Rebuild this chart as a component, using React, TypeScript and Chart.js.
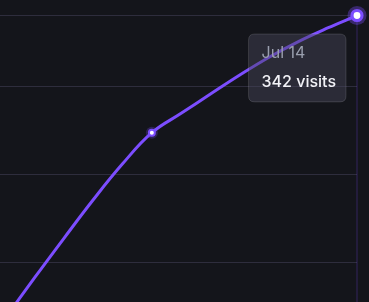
import React, { useEffect, useRef } from 'react';
import { Chart, registerables, Tooltip } from 'chart.js';

Chart.register(...registerables);

// ---- data ----
const DATES = ['Jul 1', 'Jul 2', 'Jul 3', 'Jul 4', 'Jul 5', 'Jul 6', 'Jul 7', 'Jul 8', 'Jul 9', 'Jul 10', 'Jul 11', 'Jul 12', 'Jul 13', 'Jul 14'];
const VISITS = [146.4, 170.0, 193.0, 215.4, 237.3, 257.7, 275.4, 286.4, 297.4, 308.2, 318.3, 327.2, 334.9, 342];
const MARKED = [6, 13];
const Y_TICKS = [151.7, 201.7, 251.7, 301.7, 342];
const Y_MIN = 130;
const Y_MAX = 342;

// ---- style ----
const BG = '#14151b';
const LINE = '#7c4dff';
const GRID = '#2e2d3d';

(Tooltip as any).positioners.offsetLeftBelow = function (items: any[]) {
  if (!items.length) return false;
  const el = items[0].element;
  return { x: el.x - 17, y: el.y + 18.5 };
};

const glowPlugin = {
  id: 'glow',
  beforeDatasetsDraw(chart: any) {
    const meta = chart.getDatasetMeta(0);
    const ctx = chart.ctx;
    const area = chart.chartArea;
    ctx.save();
    chart.getActiveElements().forEach((a: any) => {
      const el = meta.data[a.index];
      ctx.strokeStyle = 'rgba(124,77,255,0.15)';
      ctx.lineWidth = 2;
      ctx.beginPath();
      ctx.moveTo(el.x, area.top);
      ctx.lineTo(el.x, area.bottom);
      ctx.stroke();
    });
    MARKED.forEach((i) => {
      const el = meta.data[i];
      const last = i === VISITS.length - 1;
      ctx.fillStyle = last ? 'rgba(124,77,255,0.35)' : 'rgba(124,77,255,0.25)';
      ctx.beginPath();
      ctx.arc(el.x, el.y, last ? 9.5 : 6, 0, Math.PI * 2);
      ctx.fill();
    });
    ctx.restore();
  },
};

export default function App() {
  const ref = useRef<HTMLCanvasElement>(null);

  useEffect(() => {
    document.documentElement.style.overflow = 'hidden';
    document.body.style.margin = '0';
    document.body.style.overflow = 'hidden';
    document.body.style.background = BG;
    Chart.defaults.font.family = 'Inter';

    const last = VISITS.length - 1;
    const chart = new Chart(ref.current as HTMLCanvasElement, {
      type: 'line',
      data: {
        labels: DATES,
        datasets: [
          {
            data: VISITS,
            borderColor: LINE,
            borderWidth: 3,
            tension: 0.4,
            fill: false,
            clip: false as any,
            pointRadius: (c: any) => (c.dataIndex === 6 ? 3 : c.dataIndex === last ? 5 : 0),
            pointBorderWidth: (c: any) => (c.dataIndex === last ? 3.2 : 2),
            pointHoverRadius: 5,
            pointHoverBorderWidth: 3.2,
            pointBackgroundColor: '#ffffff',
            pointBorderColor: LINE,
            pointHoverBackgroundColor: '#ffffff',
            pointHoverBorderColor: LINE,
          },
        ],
      },
      options: {
        animation: false,
        responsive: false,
        maintainAspectRatio: false,
        events: [],
        layout: { autoPadding: false, padding: { left: 0, right: 12, top: 15.5, bottom: 11.4 } },
        scales: {
          x: { display: false },
          y: {
            min: Y_MIN,
            max: Y_MAX,
            border: { display: false },
            grid: { color: GRID, lineWidth: 1, drawTicks: false },
            ticks: { display: false },
            afterBuildTicks: (s: any) => {
              s.ticks = Y_TICKS.map((v) => ({ value: v }));
            },
            afterFit: (s: any) => {
              s.width = 0;
            },
          },
        },
        plugins: {
          legend: { display: false },
          tooltip: {
            enabled: true,
            position: 'offsetLeftBelow' as any,
            xAlign: 'right',
            yAlign: 'top',
            caretSize: 0,
            caretPadding: 0,
            cornerRadius: 6,
            displayColors: false,
            backgroundColor: 'rgba(72,72,90,0.45)',
            borderColor: 'rgba(255,255,255,0.13)',
            borderWidth: 1,
            padding: { top: 10, bottom: 10, left: 13, right: 10 },
            titleColor: '#9a9fae',
            titleFont: { family: 'Inter', size: 16, weight: 'normal' },
            titleMarginBottom: 9.5,
            bodyColor: '#f2f2f7',
            bodyFont: { family: 'Inter', size: 16, weight: 500 as any },
            callbacks: {
              title: (items: any[]) => items[0].label,
              label: (item: any) => `${item.raw} visits`,
            },
          },
        },
      },
      plugins: [glowPlugin],
    });

    const act = [{ datasetIndex: 0, index: last }];
    chart.setActiveElements(act);
    chart.tooltip?.setActiveElements(act, { x: 0, y: 0 });
    chart.update();

    return () => chart.destroy();
  }, []);

  return (
    <div style={{ position: 'fixed', left: 0, top: 0, width: 369, height: 302, overflow: 'hidden', background: BG }}>
      <div style={{ position: 'absolute', left: -24, top: 0, width: 393, height: 400 }}>
        <canvas ref={ref} width={393} height={400} style={{ display: 'block', width: 393, height: 400 }} />
      </div>
    </div>
  );
}
